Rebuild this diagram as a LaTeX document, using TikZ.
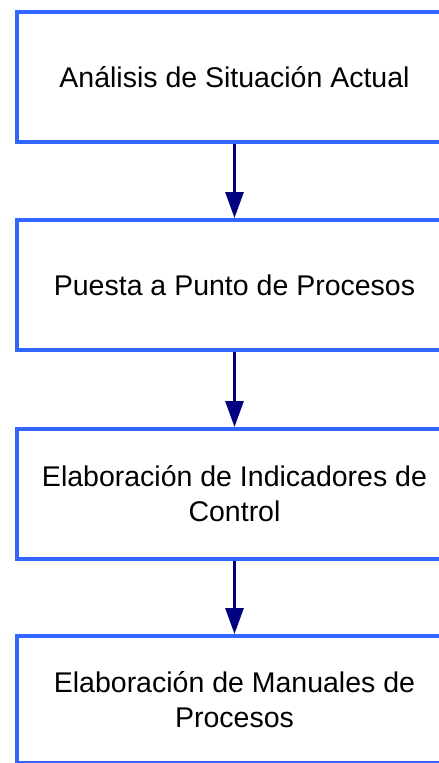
\documentclass[tikz,border=0pt]{standalone}
\usepackage{fontspec}
\setmainfont{Liberation Sans}
\usetikzlibrary{arrows.meta}
\definecolor{boxblue}{RGB}{51,102,255}
\definecolor{arrownavy}{RGB}{0,0,128}
\begin{document}
\begin{tikzpicture}[x=1pt,y=-1pt,
  stepbox/.style={draw=boxblue, line width=4pt, minimum width=435pt,
    minimum height=130pt, inner sep=0pt, align=center,
    font=\fontsize{28.5}{35}\selectfont, anchor=north west},
  flow/.style={draw=arrownavy, line width=3pt,
    -{Triangle[width=18pt,length=26pt]}}]
\clip (0,0) rectangle (439,763);
\fill[white] (0,0) rectangle (439,763);
\node[stepbox] (a) at (15,10) {Análisis de Situación Actual};
\node[stepbox] (b) at (15,218) {Puesta a Punto de Procesos};
\node[stepbox] (c) at (15,427) {Elaboración de Indicadores de\\Control};
\node[stepbox, minimum height=127pt] (d) at (15,634) {Elaboración de Manuales de\\Procesos};
\draw[flow] (a.south) -- (b.north);
\draw[flow] (b.south) -- (c.north);
\draw[flow] (c.south) -- (d.north);
\end{tikzpicture}
\end{document}
